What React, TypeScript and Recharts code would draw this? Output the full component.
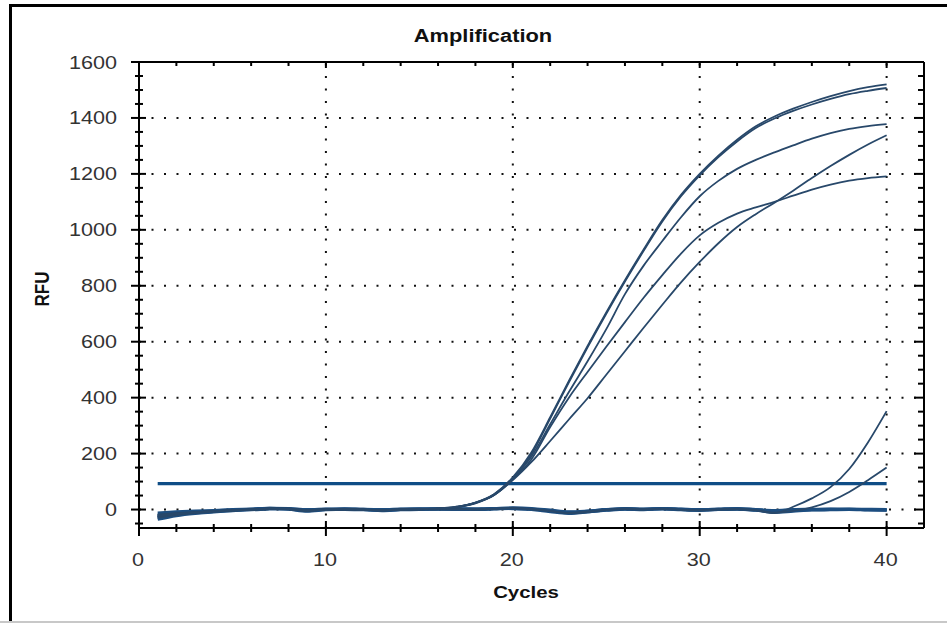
import React from "react";
import { LineChart, Line, XAxis, YAxis, ReferenceLine } from "recharts";

const cycles = [1, 2, 3, 4, 5, 6, 7, 8, 9, 10, 11, 12, 13, 14, 15, 16, 17, 18, 19, 20, 21, 22, 23, 24, 25, 26, 27, 28, 29, 30, 31, 32, 33, 34, 35, 36, 37, 38, 39, 40];

// amplified wells
const wellA1 = [-22, -15, -10, -6, -3, 0, 3, 2, -3, 0, 1, 0, -2, 1, 2, 4, 10, 25, 55, 115, 205, 330, 460, 585, 705, 820, 930, 1035, 1125, 1200, 1265, 1322, 1370, 1405, 1433, 1457, 1478, 1496, 1510, 1520];
const wellA2 = [-25, -17, -11, -7, -4, -1, 2, 3, -2, 1, 0, -1, -2, 0, 1, 3, 9, 24, 52, 110, 198, 325, 455, 580, 700, 815, 925, 1030, 1120, 1195, 1260, 1316, 1364, 1398, 1425, 1448, 1468, 1485, 1497, 1507];
const wellB = [-18, -13, -9, -5, -2, 0, 3, 1, -4, -1, 1, 1, -3, 0, 1, 2, 10, 25, 55, 112, 190, 305, 420, 530, 645, 770, 872, 960, 1045, 1120, 1175, 1218, 1250, 1277, 1302, 1326, 1346, 1361, 1371, 1378];
const wellC = [-30, -20, -13, -8, -4, 0, 4, 2, -5, 0, 2, 0, -4, -1, 0, 2, 9, 24, 52, 108, 180, 295, 400, 492, 582, 670, 757, 838, 915, 980, 1025, 1058, 1080, 1100, 1122, 1144, 1162, 1176, 1185, 1191];
const wellD = [-20, -14, -10, -6, -2, 1, 2, 3, -2, 1, 0, -1, -2, 1, 2, 3, 8, 22, 52, 105, 170, 245, 322, 398, 482, 566, 650, 732, 812, 885, 952, 1010, 1056, 1097, 1140, 1185, 1228, 1268, 1305, 1338];

// late risers
const wellE = [-26, -16, -11, -6, -3, 0, 4, 2, -4, 0, 1, 0, -3, 0, 1, 2, 2, 1, 3, 5, 2, -5, -13, -9, -2, 2, 0, 3, 0, -2, 0, 2, -3, -13, 10, 40, 80, 145, 240, 352];
const wellF = [-24, -16, -10, -6, -3, -1, 2, 3, -3, 1, 0, -1, -2, 0, 2, 1, 1, 0, 2, 4, 1, -6, -12, -7, -1, 3, 1, 2, -1, -3, 1, 1, -2, -11, -5, 8, 30, 63, 105, 150];

// negatives
const neg1 = [-28, -18, -12, -7, -3, 1, 4, 2, -4, 0, 2, 0, -3, 0, 1, 2, 2, 1, 3, 5, 2, -5, -13, -9, -2, 2, 0, 3, 0, -2, 0, 2, -2, -6, -3, -1, 0, 1, -1, -2];
const neg2 = [-20, -14, -9, -5, -2, -1, 2, 3, -2, 1, 0, -1, -2, 1, 2, 1, 0, 2, 4, 3, 0, -8, -14, -6, 0, 3, 1, 2, -1, -3, 1, 1, -3, -10, -6, -2, -1, 0, -2, -3];
const neg3 = [-35, -22, -14, -9, -4, 0, 5, 1, -6, -1, 1, 1, -4, -1, 0, 3, 1, 0, 2, 4, 1, -4, -10, -8, -3, 1, -1, 4, 1, -1, 0, 3, -1, -4, -2, 0, 1, 0, 0, -1];
const neg4 = [-12, -8, -5, -3, 0, 2, 5, 4, 0, 2, 3, 1, 0, 2, 3, 3, 3, 2, 4, 6, 4, -2, -8, -5, 0, 4, 2, 4, 2, 0, 2, 4, 0, -3, 0, 1, 2, 2, 1, 0];

const THRESHOLD = 93;

const xTicks = [0, 2, 4, 6, 8, 10, 12, 14, 16, 18, 20, 22, 24, 26, 28, 30, 32, 34, 36, 38, 40];
const yTicks = [-50, 0, 50, 100, 150, 200, 250, 300, 350, 400, 450, 500, 550, 600, 650, 700, 750, 800, 850, 900, 950, 1000, 1050, 1100, 1150, 1200, 1250, 1300, 1350, 1400, 1450, 1500, 1550, 1600];
const xGrid = [10, 20, 30, 40];
const yGrid = [0, 200, 400, 600, 800, 1000, 1200, 1400];

const rows = cycles.map((c, i) => ({
  c,
  a1: wellA1[i],
  a2: wellA2[i],
  b: wellB[i],
  cc: wellC[i],
  d: wellD[i],
  e: wellE[i],
  f: wellF[i],
  n1: neg1[i],
  n2: neg2[i],
  n3: neg3[i],
  n4: neg4[i],
  thr: THRESHOLD,
}));

const FONT = '"Liberation Sans", Arial, sans-serif';

function BottomTick(props: any) {
  const { x, y, payload } = props;
  const v = payload.value;
  const major = v % 10 === 0;
  return (
    <g>
      <line x1={x} x2={x} y1={y - (major ? 7 : 4)} y2={y + (major ? 8 : 4)} stroke="#000" strokeWidth={2} />
      {major && (
        <text transform={`translate(${x - 1},${y + 38}) scale(1.2,1)`} textAnchor="middle" fontSize={18} fill="#333" fontFamily={FONT}>
          {v}
        </text>
      )}
    </g>
  );
}

function TopTick(props: any) {
  const { x, y, payload } = props;
  const major = payload.value % 10 === 0;
  return <line x1={x} x2={x} y1={y} y2={y + (major ? 6 : 4)} stroke="#000" strokeWidth={2} />;
}

function LeftTick(props: any) {
  const { x, y, payload } = props;
  const v = payload.value;
  const major = v % 200 === 0;
  return (
    <g>
      <line x1={x - (major ? 8 : 4)} x2={x + (major ? 7 : 4)} y1={y} y2={y} stroke="#000" strokeWidth={2} />
      {major && (
        <text transform={`translate(${x - 22},${y + 6.5}) scale(1.2,1)`} textAnchor="end" fontSize={18} fill="#333" fontFamily={FONT}>
          {v}
        </text>
      )}
    </g>
  );
}

function RightTick(props: any) {
  const { x, y, payload } = props;
  const major = payload.value % 200 === 0;
  return <line x1={x - (major ? 10 : 6)} x2={x} y1={y} y2={y} stroke="#000" strokeWidth={2} />;
}

const curve = "#28486a";
const base = "#1d4e80";

export default function App() {
  return (
    <div style={{ position: "absolute", left: 0, top: 0, width: 947, height: 623, background: "#fff", overflow: "hidden" }}>
      <LineChart width={947} height={623} data={rows} margin={{ top: 52, right: 13, bottom: 55, left: 79 }}>
        <XAxis xAxisId={0} dataKey="c" type="number" domain={[0, 42]} allowDataOverflow ticks={xTicks} interval={0}
          tick={<BottomTick />} tickSize={0} tickMargin={0} tickLine={false} height={40}
          axisLine={{ stroke: "#000", strokeWidth: 2 }} />
        <XAxis xAxisId="top" orientation="top" dataKey="c" type="number" domain={[0, 42]} allowDataOverflow ticks={xTicks} interval={0}
          tick={<TopTick />} tickSize={0} tickMargin={0} tickLine={false} height={10}
          axisLine={{ stroke: "#000", strokeWidth: 2 }} />
        <YAxis yAxisId={0} type="number" domain={[-66, 1600]} allowDataOverflow ticks={yTicks} interval={0}
          tick={<LeftTick />} tickSize={0} tickMargin={0} tickLine={false} width={60}
          axisLine={{ stroke: "#000", strokeWidth: 2 }} />
        <YAxis yAxisId="right" orientation="right" type="number" domain={[-66, 1600]} allowDataOverflow ticks={yTicks} interval={0}
          tick={<RightTick />} tickSize={0} tickMargin={0} tickLine={false} width={10}
          axisLine={{ stroke: "#000", strokeWidth: 2 }} />

        {xGrid.map((v) => (
          <ReferenceLine key={"x" + v} x={v} stroke="#111" strokeWidth={2} strokeDasharray="2 10.5" />
        ))}
        {yGrid.map((v) => (
          <ReferenceLine key={"y" + v} y={v} stroke="#111" strokeWidth={2} strokeDasharray="2 10.5" />
        ))}

        <Line dataKey="n1" type="monotone" stroke={base} strokeWidth={3} dot={false} isAnimationActive={false} />
        <Line dataKey="n2" type="monotone" stroke={base} strokeWidth={3} dot={false} isAnimationActive={false} />
        <Line dataKey="n3" type="monotone" stroke={base} strokeWidth={3} dot={false} isAnimationActive={false} />
        <Line dataKey="n4" type="monotone" stroke={base} strokeWidth={3} dot={false} isAnimationActive={false} />
        <Line dataKey="thr" type="linear" stroke="#0f4d86" strokeWidth={3.2} dot={false} isAnimationActive={false} />
        <Line dataKey="e" type="monotone" stroke={curve} strokeWidth={1.8} dot={false} isAnimationActive={false} />
        <Line dataKey="f" type="monotone" stroke={curve} strokeWidth={1.8} dot={false} isAnimationActive={false} />
        <Line dataKey="d" type="monotone" stroke={curve} strokeWidth={1.8} dot={false} isAnimationActive={false} />
        <Line dataKey="cc" type="monotone" stroke={curve} strokeWidth={1.8} dot={false} isAnimationActive={false} />
        <Line dataKey="b" type="monotone" stroke={curve} strokeWidth={1.8} dot={false} isAnimationActive={false} />
        <Line dataKey="a2" type="monotone" stroke={curve} strokeWidth={1.8} dot={false} isAnimationActive={false} />
        <Line dataKey="a1" type="monotone" stroke={curve} strokeWidth={1.8} dot={false} isAnimationActive={false} />
      </LineChart>

      <svg width={947} height={623} style={{ position: "absolute", left: 0, top: 0, pointerEvents: "none" }}>
        <rect x={9} y={4} width={3} height={619} fill="#000" />
        <rect x={9} y={4} width={938} height={3} fill="#000" />
        <rect x={0} y={621} width={947} height={2} fill="#c8c8c8" />
        <text transform="translate(483,42) scale(1.15,1)" textAnchor="middle" fontSize={19} fontWeight="bold" fill="#111" fontFamily={FONT}>
          Amplification
        </text>
        <text transform="translate(526,598) scale(1.2,1)" textAnchor="middle" fontSize={17} fontWeight="bold" fill="#111" fontFamily={FONT}>
          Cycles
        </text>
        <text transform="translate(49,289) scale(1.2,1) rotate(-90)" textAnchor="middle" fontSize={17} fontWeight="bold" fill="#111" fontFamily={FONT}>
          RFU
        </text>
      </svg>
    </div>
  );
}
